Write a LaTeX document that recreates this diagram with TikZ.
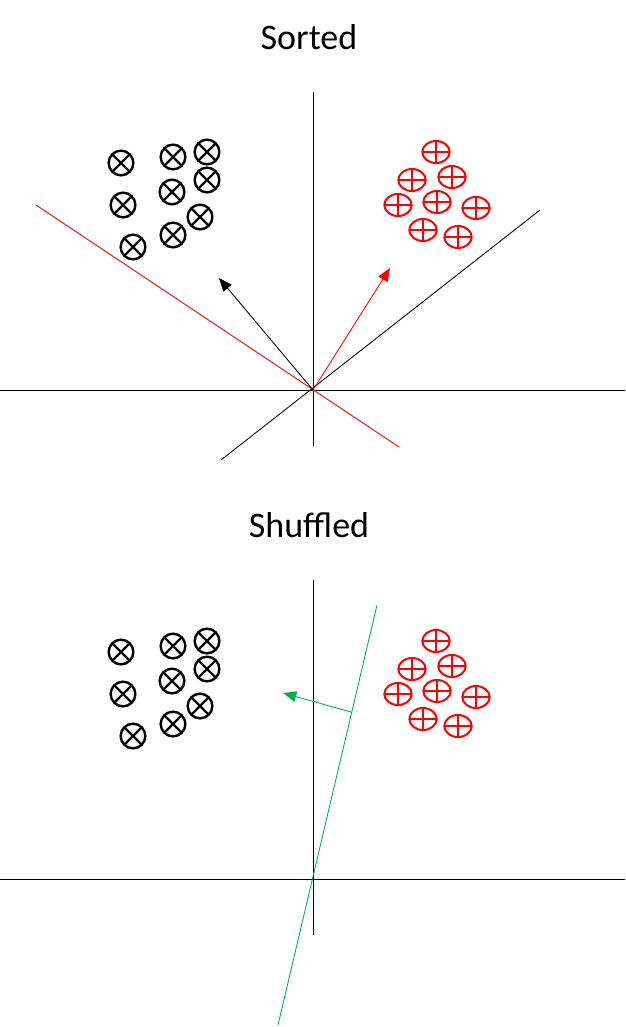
\documentclass[tikz,border=0pt]{standalone}
\usepackage{fontspec}
\setmainfont{Carlito}
\usetikzlibrary{arrows.meta,shapes.geometric,positioning}
\definecolor{sepgreen}{RGB}{0,176,80}

\tikzset{
  xsample/.style={circle, draw, line width=1.8pt, minimum size=18.5pt, inner sep=0pt,
    path picture={\draw[line width=1.8pt]
      (path picture bounding box.north west) -- (path picture bounding box.south east)
      (path picture bounding box.north east) -- (path picture bounding box.south west);}},
  osample/.style={ellipse, draw=red, line width=1.5pt, minimum width=20.5pt, minimum height=16.5pt, inner sep=0pt,
    path picture={\draw[red, line width=1.5pt]
      (path picture bounding box.north) -- (path picture bounding box.south)
      (path picture bounding box.west) -- (path picture bounding box.east);}},
  axisline/.style={line width=0.65pt},
  vec/.style={line width=0.65pt, -{Triangle[length=10pt,width=8pt]}},
  paneltitle/.style={font=\fontsize{27}{32}\selectfont}
}

\begin{document}
\begin{tikzpicture}[x=0.75pt, y=-0.75pt]
	\useasboundingbox (0,0) rectangle (625,1027);
	
	% titles
	\node[paneltitle] (sorted) at (309,37) {Sorted};
	\node[paneltitle] (shuffled) at (309,525) {Shuffled};
	
	% samples, same cloud in both panels
	\foreach \p/\dy in {s/0, h/489} {
		\foreach \x/\y [count=\i] in {121/163, 173/157, 207/152, 123/205, 172/192, 207/180, 200/217, 173/235, 133/247}
			\node[xsample] (\p x\i) at (\x,\y+\dy) {};
		\foreach \x/\y [count=\i] in {436/152, 412/180, 452/177, 398/205, 437/202, 476/208, 423/230, 458/237}
			\node[osample] (\p o\i) at (\x,\y+\dy) {};
	}
	
	% sorted panel
	\coordinate (sO) at (313,390);
	\coordinate (sN) at (313,92);
	\coordinate (sS) at (313,446);
	\coordinate (sW) at (0,390);
	\coordinate (sE) at (625,390);
	\coordinate (redA) at (36,205);
	\coordinate (redB) at (399,447);
	\coordinate (blkA) at (221,460);
	\coordinate (blkB) at (540,210);
	\coordinate (blkTip) at (219,278);
	\coordinate (redTip) at (390,268);
	
	\draw[axisline] (sN) -- (sS);
	\draw[axisline] (sW) -- (sE);
	\draw[axisline, red] (redA) -- (redB);
	\draw[axisline] (blkA) -- (blkB);
	\draw[vec] (sO) -- (blkTip);
	\draw[vec, red] (sO) -- (redTip);
	
	% shuffled panel
	\coordinate (hN) at (313,580);
	\coordinate (hS) at (313,935);
	\coordinate (hW) at (0,879);
	\coordinate (hE) at (625,879);
	\coordinate (grnA) at (278,1025);
	\coordinate (grnB) at (377,605);
	\coordinate (grnFoot) at (351,712);
	\coordinate (grnTip) at (283,693);
	
	\draw[axisline] (hN) -- (hS);
	\draw[axisline] (hW) -- (hE);
	\draw[axisline, sepgreen] (grnA) -- (grnB);
	\draw[vec, sepgreen] (grnFoot) -- (grnTip);
\end{tikzpicture}
\end{document}
